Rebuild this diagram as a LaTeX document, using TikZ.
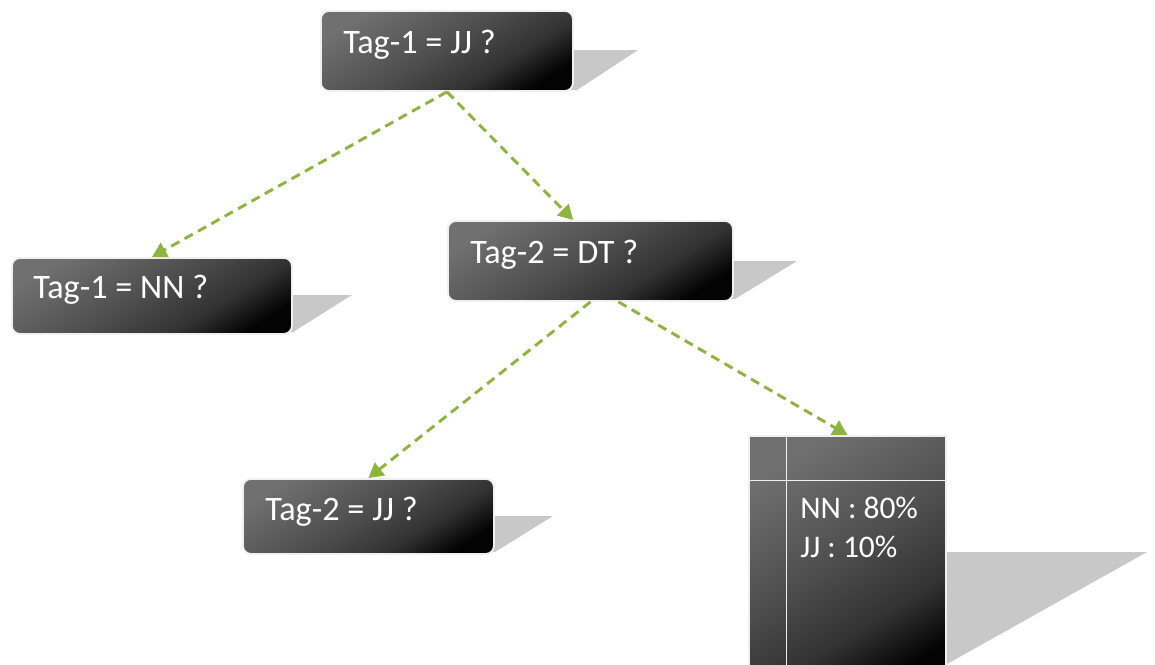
\documentclass[tikz,border=0pt]{standalone}
\usepackage{fontspec}
\setmainfont{Carlito}
\usetikzlibrary{arrows.meta,calc}
\definecolor{arrowgreen}{HTML}{8DB43F}
\definecolor{shadowgray}{HTML}{C8C8C8}
\definecolor{shA}{HTML}{030303}
\definecolor{shB}{HTML}{323232}
\definecolor{shC}{HTML}{4E4E4E}
\definecolor{shD}{HTML}{707070}
\definecolor{boxedge}{HTML}{F0F0F0}
\pgfdeclareverticalshading{boxshade}{100bp}{color(0bp)=(shA); color(24bp)=(shA); color(36bp)=(shB); color(52bp)=(shC); color(76bp)=(shD); color(100bp)=(shD)}
\begin{document}
\begin{tikzpicture}[x=0.75pt,y=-0.75pt,
  darkbox/.style={draw=boxedge, line width=1.4pt, rounded corners=6pt,
    shading=boxshade, shading angle=32,
    anchor=north west, inner sep=0pt},
  tablebox/.style={draw=boxedge, line width=1.4pt,
    shading=boxshade, shading angle=32,
    anchor=north west, inner sep=0pt},
  boxtext/.style={anchor=base west, inner sep=0pt, text=white, font=\fontsize{25.7}{30}\selectfont},
  celltext/.style={anchor=base west, inner sep=0pt, text=white, font=\fontsize{23.6}{28}\selectfont},
  conn/.style={draw=arrowgreen, line width=2.2pt, dash pattern=on 7pt off 4.5pt,
    -{Triangle[length=11pt,width=12pt]}},
  divider/.style={draw=boxedge, line width=1.4pt}
]
\useasboundingbox (0,0) rectangle (1155,664);

% shadows
\fill[shadowgray] (560,50) -- (638,50) -- (577,90) -- (560,90) -- cycle;
\fill[shadowgray] (280,295) -- (352,295) -- (293,332) -- (280,332) -- cycle;
\fill[shadowgray] (720,261) -- (797,261) -- (735,299) -- (720,299) -- cycle;
\fill[shadowgray] (480,516) -- (553,516) -- (495,552) -- (480,552) -- cycle;
\fill[shadowgray] (930,552) -- (1147,552) -- (947,664) -- (930,664) -- cycle;

% boxes
\node[darkbox, minimum width=189pt, minimum height=60pt] (b1) at (320,10) {};
\node[darkbox, minimum width=210pt, minimum height=57pt] (b2) at (11,257) {};
\node[darkbox, minimum width=213.75pt, minimum height=60pt] (b3) at (447,220) {};
\node[darkbox, minimum width=188.25pt, minimum height=56.25pt] (b4) at (242,478) {};
\node[tablebox, minimum width=147.75pt, minimum height=190pt] (tbl) at (748,435) {};

% table dividers
\coordinate (vtop) at (786.5,435);
\coordinate (vbot) at (786.5,680);
\coordinate (hl) at (748,480.5);
\coordinate (hr) at (945,480.5);
\draw[divider] (vtop) -- (vbot);
\draw[divider] (hl) -- (hr);

% texts
\node[boxtext] (t1) at (343,53) {Tag-1 = JJ ?};
\node[boxtext] (t2) at (33,298) {Tag-1 = NN ?};
\node[boxtext] (t3) at (470,263) {Tag-2 = DT ?};
\node[boxtext] (t4) at (265,520) {Tag-2 = JJ ?};
\node[celltext] (c1) at (800,518) {NN : 80\%};
\node[celltext] (c2) at (800,557) {JJ : 10\%};

% connectors
\draw[conn] (b1.south) -- (b2.north);
\draw[conn] (b1.south) -- ([xshift=-13pt]b3.north);
\draw[conn] (b3.south) -- (b4.north);
\draw[conn] ([xshift=21pt]b3.south) -- (tbl.north);
\end{tikzpicture}
\end{document}
